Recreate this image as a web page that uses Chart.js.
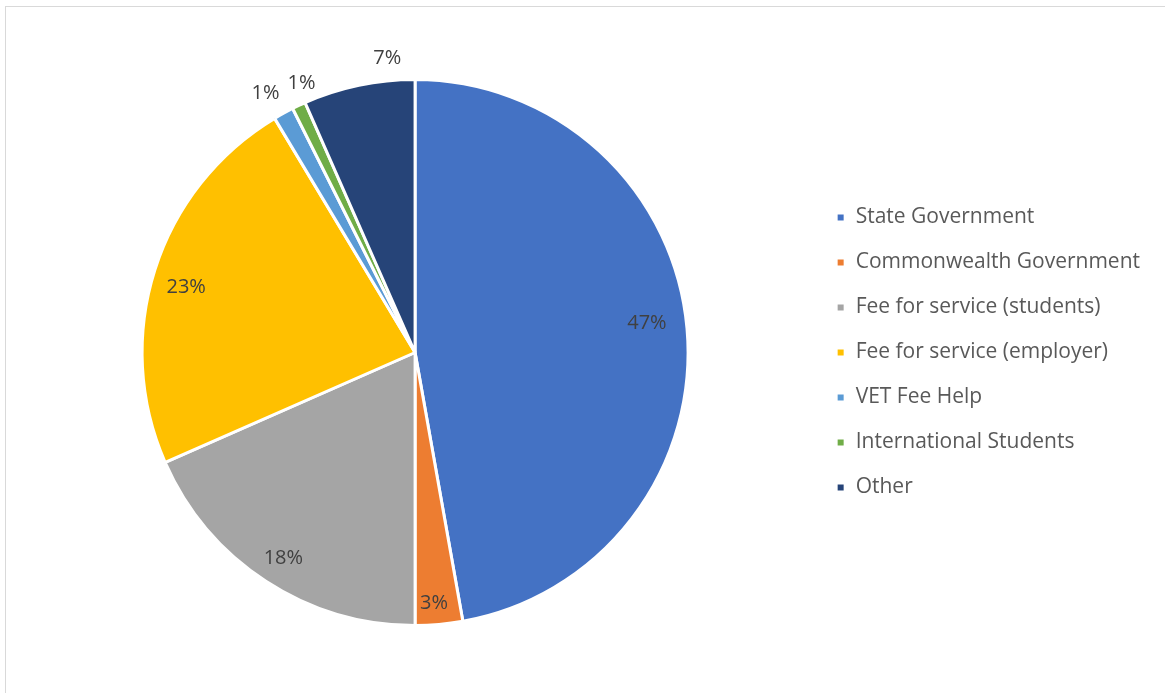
<!DOCTYPE html>
<html>
<head>
<meta charset="utf-8">
<script src="https://cdn.jsdelivr.net/npm/chart.js@4.4.1/dist/chart.umd.min.js"></script>
<style>
  html, body { margin: 0; padding: 0; background: #fff; overflow: hidden; }
  #frame { position: absolute; left: 5px; top: 6px; width: 1200px; height: 720px;
           border-left: 1px solid #d9d9d9; border-top: 1px solid #d9d9d9; }
  #wrap { position: absolute; left: 0; top: 0; width: 1165px; height: 693px; }
</style>
</head>
<body>
<div id="frame"></div>
<div id="wrap"><canvas id="chart"></canvas></div>
<script>
const categories = [
  'State Government',
  'Commonwealth Government',
  'Fee for service (students)',
  'Fee for service (employer)',
  'VET Fee Help',
  'International Students',
  'Other'
];
const shares = [47.2, 2.8, 18.4, 23.0, 1.2, 0.8, 6.6];
const colors = ['#4472c4', '#ed7d31', '#a5a5a5', '#ffc000', '#5b9bd5', '#70ad47', '#264478'];

// where each percentage label sits: fraction of radius (or px outside), plus angle nudge in degrees
const labelSpots = [
  { r: 0.856, da: -2.2 },
  { r: 0.92, da: 0.7 },
  { r: 0.895, da: -0.5 },
  { r: 0.872, da: -1.7 },
  { out: 26, da: -1.2 },
  { out: 19, da: 2.3 },
  { out: 23, da: 6.5 }
];

const FONT = '"Open Sans", "Liberation Sans", sans-serif';

const pctLabels = {
  id: 'pctLabels',
  afterDatasetsDraw(chart) {
    const ctx = chart.ctx;
    const meta = chart.getDatasetMeta(0);
    const data = chart.data.datasets[0].data;
    const total = data.reduce((a, b) => a + b, 0);
    ctx.save();
    ctx.font = '20px ' + FONT;
    ctx.fillStyle = '#404040';
    ctx.textAlign = 'center';
    ctx.textBaseline = 'middle';
    meta.data.forEach((arc, i) => {
      const p = arc.getProps(['x', 'y', 'startAngle', 'endAngle', 'outerRadius'], true);
      const spot = labelSpots[i];
      const mid = (p.startAngle + p.endAngle) / 2 + spot.da * Math.PI / 180;
      const r = spot.out !== undefined ? p.outerRadius + spot.out : p.outerRadius * spot.r;
      const txt = Math.round(data[i] / total * 100) + '%';
      ctx.fillText(txt, p.x + Math.cos(mid) * r, p.y + Math.sin(mid) * r);
    });
    ctx.restore();
  }
};

new Chart(document.getElementById('chart'), {
  type: 'pie',
  data: {
    labels: categories,
    datasets: [{
      data: shares,
      backgroundColor: colors,
      borderColor: '#ffffff',
      borderWidth: 3
    }]
  },
  options: {
    responsive: true,
    maintainAspectRatio: false,
    animation: false,
    layout: { padding: { left: 18, right: 15, top: 78, bottom: 66 } },
    plugins: {
      tooltip: { enabled: false },
      legend: {
        position: 'right',
        align: 'center',
        labels: {
          boxWidth: 9,
          boxHeight: 9,
          padding: 24,
          color: '#595959',
          font: { family: FONT, size: 21 }
        }
      }
    }
  },
  plugins: [pctLabels]
});
</script>
</body>
</html>
